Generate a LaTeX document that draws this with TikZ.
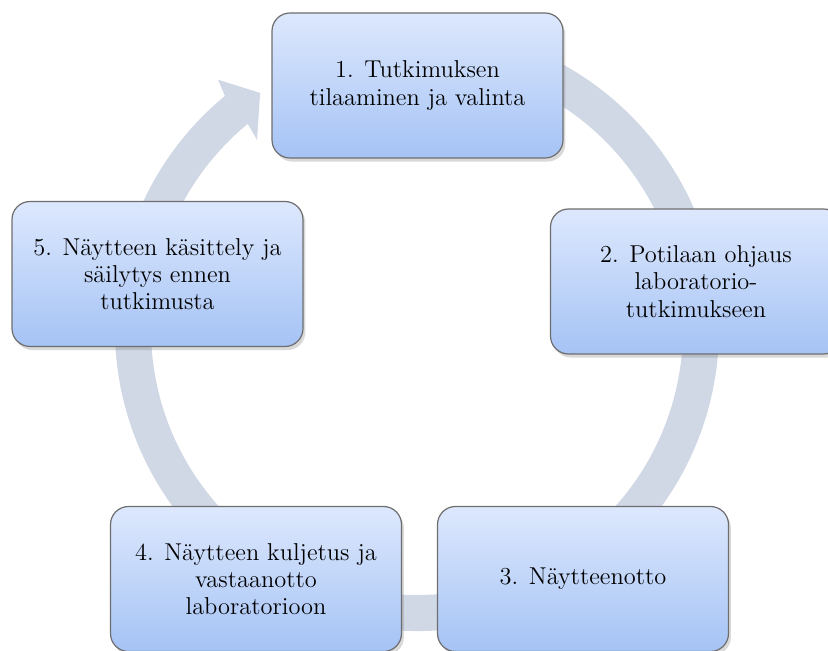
\documentclass[tikz,border=0pt]{standalone}
\usepackage{fontspec}
\usetikzlibrary{shadows}
\definecolor{ringgray}{RGB}{208,215,229}
\definecolor{boxtop}{RGB}{221,232,253}
\definecolor{boxbottom}{RGB}{165,195,245}
\definecolor{boxline}{RGB}{110,110,110}
\tikzset{
  stepbox/.style={rectangle, rounded corners=9pt, draw=boxline, line width=0.6pt,
    top color=boxtop, bottom color=boxbottom,
    minimum width=145.5pt, minimum height=72.5pt, inner sep=0pt,
    align=center, font=\fontsize{12.2}{13.6}\selectfont,
    drop shadow={opacity=0.3, shadow xshift=1.2pt, shadow yshift=-1.8pt}},
  ring/.style={fill=ringgray}
}
\begin{document}
\begin{tikzpicture}[x=0.5pt, y=-0.5pt]
  \useasboundingbox (0,0) rectangle (828,651);
  \clip (0,0) rectangle (828,651);
  % ring arrow behind the boxes
  \begin{scope}[shift={(417,329)}, yscale=-1]
    \fill[ring] (80:302) arc[start angle=80, end angle=-230.5, radius=302]
      -- (-231.4:319) -- (-236.4:283.5) -- (-229.75:247.6)
      -- (-230.5:266) arc[start angle=-230.5, end angle=80, radius=266] -- cycle;
  \end{scope}
  % steps
  \node[stepbox] (s1) at (417.5,85.5) {1. Tutkimuksen\\tilaaminen ja valinta};
  \node[stepbox] (s2) at (696,281.5) {2. Potilaan ohjaus\\laboratorio-\\tutkimukseen};
  \node[stepbox] (s3) at (583,579) {3. Näytteenotto};
  \node[stepbox] (s4) at (256,579) {4. Näytteen kuljetus ja\\vastaanotto\\laboratorioon};
  \node[stepbox] (s5) at (157.5,274) {5. Näytteen käsittely ja\\säilytys ennen\\tutkimusta};
\end{tikzpicture}
\end{document}
